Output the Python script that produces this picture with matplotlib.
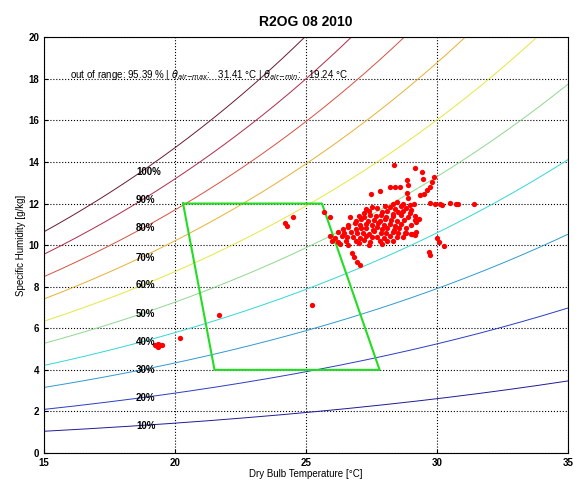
import numpy as np
import matplotlib
matplotlib.use("Agg")
import matplotlib.pyplot as plt

plt.rcParams['font.family'] = ['Liberation Sans', 'DejaVu Sans']

# relative humidity levels and their colours
rh_levels = [10, 20, 30, 40, 50, 60, 70, 80, 90, 100]
rh_colors = ['#1c1c96', '#2a3cc4', '#2f9ad2', '#33d6d6', '#8ed88e',
             '#e6e640', '#e8b030', '#d85040', '#b02848', '#6a1a30']
rh_label_y = [1.3, 2.64, 3.99, 5.34, 6.68, 8.07, 9.4, 10.8, 12.15, 13.5]

# comfort zone polygon
zone_t = [20.3, 25.6, 27.8, 21.5, 20.3]
zone_w = [12.0, 12.0, 4.0, 4.0, 12.0]

# measured points (dry bulb temperature, specific humidity)
pts_t = [19.24, 19.3, 19.36, 19.42, 19.5, 19.33, 20.19, 21.69,
         24.2, 24.26, 24.49, 25.23, 25.66, 25.92, 26.68,
         26.74, 26.81, 26.93, 27.06,
         29.67, 29.71, 29.99, 30.05, 30.24,
         29.73, 29.92, 30.1, 30.2, 30.5, 30.7, 30.8, 31.41,
         28.36, 29.16, 29.42, 29.45, 29.86, 29.8, 29.73, 29.61, 29.48, 29.35,
         28.2, 28.4, 28.59, 28.84, 28.9, 28.84, 28.9,
         29.1, 28.97, 28.71, 28.46, 28.33,
         29.29, 29.16, 28.78, 29.03, 29.16,
         27.47, 27.82,
         27.3, 27.5, 27.7, 28.0, 28.2, 28.4, 28.6, 28.8, 29.0,
         27.2, 27.4, 27.9, 28.1, 28.3, 28.5, 28.7, 28.95,
         27.0, 27.2, 27.45, 27.65, 27.85, 28.05, 28.3, 28.6, 28.9, 29.15,
         26.9, 27.1, 27.35, 27.6, 27.8, 28.0, 28.25, 28.45, 28.75, 29.2,
         26.6, 26.85, 27.05, 27.3, 27.5, 27.75, 27.95, 28.2, 28.4, 28.6, 29.0,
         26.4, 26.6, 26.9, 27.1, 27.3, 27.55, 27.7, 27.9, 28.1, 28.35, 28.55, 28.8,
         26.2, 26.45, 26.7, 26.95, 27.15, 27.4, 27.6, 27.85, 28.05, 28.3, 28.5, 28.8, 29.0, 29.2,
         25.9, 26.1, 26.35, 26.55, 26.8, 27.05, 27.3, 27.5, 27.7, 27.95, 28.2, 28.45, 28.7,
         26.0, 26.2, 26.5, 26.9, 27.2, 27.45, 27.8, 28.1, 28.3,
         26.3, 26.6, 27.0, 27.4, 27.9]
pts_w = [5.22, 5.15, 5.25, 5.18, 5.22, 5.1, 5.51, 6.63,
         11.04, 10.91, 11.36, 7.12, 11.6, 11.36, 11.36,
         9.6, 9.44, 9.2, 9.04,
         9.68, 9.52, 10.32, 10.16, 9.95,
         12.03, 12.0, 11.98, 11.95, 12.02, 12.0, 12.0, 12.0,
         13.85, 13.69, 13.52, 13.2, 13.28, 13.04, 12.8, 12.64, 12.48, 12.4,
         12.8, 12.8, 12.8, 13.12, 12.88, 12.49, 12.25,
         12.0, 11.92, 12.0, 12.08, 12.0,
         11.28, 11.2, 10.56, 10.53, 10.48,
         12.48, 12.6,
         11.75, 11.85, 11.78, 11.9, 11.82, 11.72, 11.88, 11.8, 11.7,
         11.55, 11.62, 11.58, 11.66, 11.52, 11.6, 11.64, 11.56,
         11.42, 11.35, 11.44, 11.38, 11.46, 11.36, 11.4, 11.45, 11.34, 11.42,
         11.18, 11.24, 11.15, 11.22, 11.18, 11.26, 11.2, 11.14, 11.22, 11.1,
         10.98, 11.04, 10.95, 11.02, 10.96, 11.05, 10.98, 11.0, 10.94, 11.03, 10.97,
         10.78, 10.85, 10.76, 10.82, 10.8, 10.74, 10.86, 10.78, 10.83, 10.75, 10.8, 10.84,
         10.62, 10.56, 10.64, 10.58, 10.6, 10.55, 10.66, 10.6, 10.57, 10.63, 10.58, 10.6, 10.55, 10.62,
         10.42, 10.36, 10.44, 10.38, 10.4, 10.35, 10.43, 10.38, 10.41, 10.36, 10.44, 10.4, 10.37,
         10.22, 10.15, 10.2, 10.18, 10.24, 10.16, 10.2, 10.22, 10.18,
         10.05, 10.0, 10.08, 10.02, 10.06]

title = 'R2OG 08 2010'
info = (r'out of range: 95.39 % | $\theta_{air\mathrm{-}max}$:   31.41 °C | '
        r'$\theta_{air\mathrm{-}min}$:   19.24 °C')

fig = plt.figure(figsize=(5.74, 4.83), dpi=100)
ax = fig.add_axes([0.077, 0.062, 0.913, 0.861])

# psychrometric RH curves at sea level pressure
T = np.linspace(15, 35, 200)
ps = 610.78 * np.exp(17.27 * T / (T + 237.3))
p = 101325.0
for rh, col in zip(rh_levels, rh_colors):
    phi = rh / 100.0
    w = 622.0 * phi * ps / (p - phi * ps)
    ax.plot(T, w, color=col, lw=0.7)

for rh, yy in zip(rh_levels, rh_label_y):
    ax.text(18.5, yy, '%d%%' % rh, fontsize=7, fontweight='bold',
            va='center', ha='left')

ax.plot(zone_t, zone_w, color='#22dd22', lw=1.5)
ax.plot(pts_t, pts_w, 'o', color='red', ms=3.8, mec='red', mew=0)

ax.text(16.0, 18.2, info, fontsize=7, va='center', ha='left')

ax.set_xlim(15, 35)
ax.set_ylim(0, 20)
ax.set_xticks(range(15, 36, 5))
ax.set_yticks(range(0, 21, 2))
ax.grid(True, linestyle=':', color='black', lw=0.8)
ax.tick_params(labelsize=7, direction='in', length=3)
for lab in ax.get_xticklabels() + ax.get_yticklabels():
    lab.set_fontweight('bold')
ax.set_xlabel('Dry Bulb Temperature [°C]', fontsize=7, labelpad=1)
ax.set_ylabel('Specific Humidity [g/kg]', fontsize=7, labelpad=2)
ax.set_title(title, fontsize=10, fontweight='bold', pad=8)

fig.savefig('out.png', dpi=100)
